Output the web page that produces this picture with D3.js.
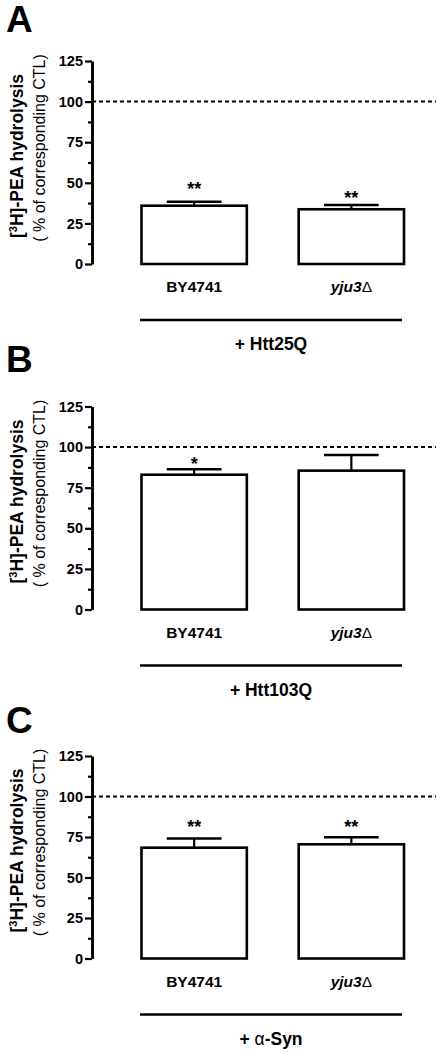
<!DOCTYPE html>
<html>
<head>
<meta charset="utf-8">
<script src="https://cdn.jsdelivr.net/npm/d3@7"></script>
<style>
  body { margin: 0; background: #fff; }
  text { font-family: "Liberation Sans", Arial, Helvetica, sans-serif; fill: #000; }
</style>
</head>
<body>
<script>
// data (% of corresponding CTL)
var strains = ["BY4741", "yju3"]
var panelLetters = ["A", "B", "C"]
var treatments = ["Htt25Q", "Htt103Q", "α-Syn"]
var means = [[35.9, 33.7], [83.0, 85.5], [68.4, 70.5]]
var sems = [[2.5, 2.6], [3.4, 9.7], [5.6, 4.4]]
var stars = [["**", "**"], ["*", ""], ["**", "**"]]
var starLevel = [[48.6, 42.9], [92.1, 0], [83.5, 83.5]]
var yTicks = [0, 25, 50, 75, 100, 125]
var yMinorTicks = [12.5, 37.5, 62.5, 87.5, 112.5]
var controlLevel = 100

// where each panel's axis sits on the page (y of 0 and y of 125, letter baseline)
var panelPos = [
  {y0: 264, y1: 61, letterY: 32},
  {y0: 609.5, y1: 406.5, letterY: 372},
  {y0: 958.5, y1: 756, letterY: 733}
]

var W = 436, H = 1053
var axisX = 92

var svg = d3.select("body").append("svg")
    .attr("width", W)
    .attr("height", H)

var x = d3.scaleBand()
    .domain(strains)
    .range([141.5, 404])
    .paddingInner(0.33)
    .paddingOuter(0)

panelLetters.forEach(function(letter, i){
  var pos = panelPos[i]
  var y = d3.scaleLinear().domain([0, 125]).range([pos.y0, pos.y1])
  var g = svg.append("g")

  //panel letter
  g.append("text")
      .attr("x", 6).attr("y", pos.letterY)
      .style("font-size", "37px").style("font-weight", "bold")
      .text(letter)

  //y axis title, two rotated lines
  var t1 = g.append("text")
      .attr("transform", "translate(23," + (pos.y0 - 108) + ") rotate(-90)")
      .attr("text-anchor", "middle")
      .style("font-size", "17.5px").style("font-weight", "bold")
  t1.append("tspan").text("[")
  t1.append("tspan").attr("dy", -6).style("font-size", "11px").text("3")
  t1.append("tspan").attr("dy", 6).text("H]-PEA hydrolysis")

  g.append("text")
      .attr("transform", "translate(45," + (pos.y0 - 116) + ") rotate(-90)")
      .attr("text-anchor", "middle")
      .style("font-size", "16px")
      .text("( % of corresponding CTL)")

  //dotted control line at 100%
  g.append("line")
      .attr("x1", axisX).attr("x2", W)
      .attr("y1", y(controlLevel)).attr("y2", y(controlLevel))
      .attr("stroke", "#000").attr("stroke-width", 2)
      .attr("stroke-dasharray", "4,3")

  //bars
  var data = strains.map(function(s, j){
    return {strain: s, mean: means[i][j], sem: sems[i][j], star: stars[i][j], starAt: starLevel[i][j]}
  })

  var bars = g.selectAll(".bar").data(data).enter().append("g")

  bars.append("line")
      .attr("x1", function(d){ return x(d.strain) + x.bandwidth() / 2 })
      .attr("x2", function(d){ return x(d.strain) + x.bandwidth() / 2 })
      .attr("y1", function(d){ return y(d.mean) })
      .attr("y2", function(d){ return y(d.mean + d.sem) })
      .attr("stroke", "#000").attr("stroke-width", 2.2)

  bars.append("line")
      .attr("x1", function(d){ return x(d.strain) + x.bandwidth() * 0.24 })
      .attr("x2", function(d){ return x(d.strain) + x.bandwidth() * 0.76 })
      .attr("y1", function(d){ return y(d.mean + d.sem) })
      .attr("y2", function(d){ return y(d.mean + d.sem) })
      .attr("stroke", "#000").attr("stroke-width", 2.5)

  bars.append("rect")
      .attr("x", function(d){ return x(d.strain) })
      .attr("width", x.bandwidth())
      .attr("y", function(d){ return y(d.mean) })
      .attr("height", function(d){ return y(0) - y(d.mean) })
      .attr("fill", "#fff").attr("stroke", "#000").attr("stroke-width", 2.6)

  bars.filter(function(d){ return d.star != "" })
    .append("text")
      .attr("x", function(d){ return x(d.strain) + x.bandwidth() / 2 })
      .attr("y", function(d){ return y(d.starAt) + 10 })
      .attr("text-anchor", "middle")
      .style("font-size", "18px").style("font-weight", "bold")
      .text(function(d){ return d.star })

  //y axis with major and minor ticks
  var axisG = g.append("g")
      .attr("transform", "translate(" + axisX + ",0)")
      .call(d3.axisLeft(y).tickValues(yTicks).tickSize(7).tickPadding(2).tickSizeOuter(0))
  axisG.select(".domain").attr("stroke-width", 2.9)
  axisG.selectAll(".tick line").attr("stroke-width", 2.2)
  axisG.selectAll(".tick text")
      .style("font-size", "14.5px").style("font-weight", "bold")
      .style("font-family", "'Liberation Sans', Arial, sans-serif")

  g.append("g")
      .attr("transform", "translate(" + axisX + ",0)")
      .call(d3.axisLeft(y).tickValues(yMinorTicks).tickSize(4).tickFormat("").tickSizeOuter(0))
    .call(function(s){ s.select(".domain").remove() })
    .selectAll(".tick line").attr("stroke-width", 2.2)

  //category labels
  var cat = g.selectAll(".cat").data(strains).enter().append("text")
      .attr("x", function(d){ return x(d) + x.bandwidth() / 2 })
      .attr("y", pos.y0 + 28)
      .attr("text-anchor", "middle")
      .style("font-size", "15.5px").style("font-weight", "bold")
  cat.filter(function(d){ return d == "BY4741" }).text(function(d){ return d })
  var mut = cat.filter(function(d){ return d != "BY4741" })
  mut.append("tspan").style("font-style", "italic").text(function(d){ return d })
  mut.append("tspan").style("font-weight", "normal").text("Δ")

  //treatment bracket and label
  g.append("line")
      .attr("x1", 140).attr("x2", 402)
      .attr("y1", pos.y0 + 56).attr("y2", pos.y0 + 56)
      .attr("stroke", "#000").attr("stroke-width", 2.4)

  var tl = g.append("text")
      .attr("x", 271).attr("y", pos.y0 + 86)
      .attr("text-anchor", "middle")
      .style("font-size", "17.5px").style("font-weight", "bold")
  var tname = treatments[i]
  tl.append("tspan").text("+ ")
  if (tname.charAt(0) == "α") {
    tl.append("tspan").style("font-weight", "normal").text("α")
    tl.append("tspan").text(tname.slice(1))
  } else {
    tl.append("tspan").text(tname)
  }
})
</script>
</body>
</html>
